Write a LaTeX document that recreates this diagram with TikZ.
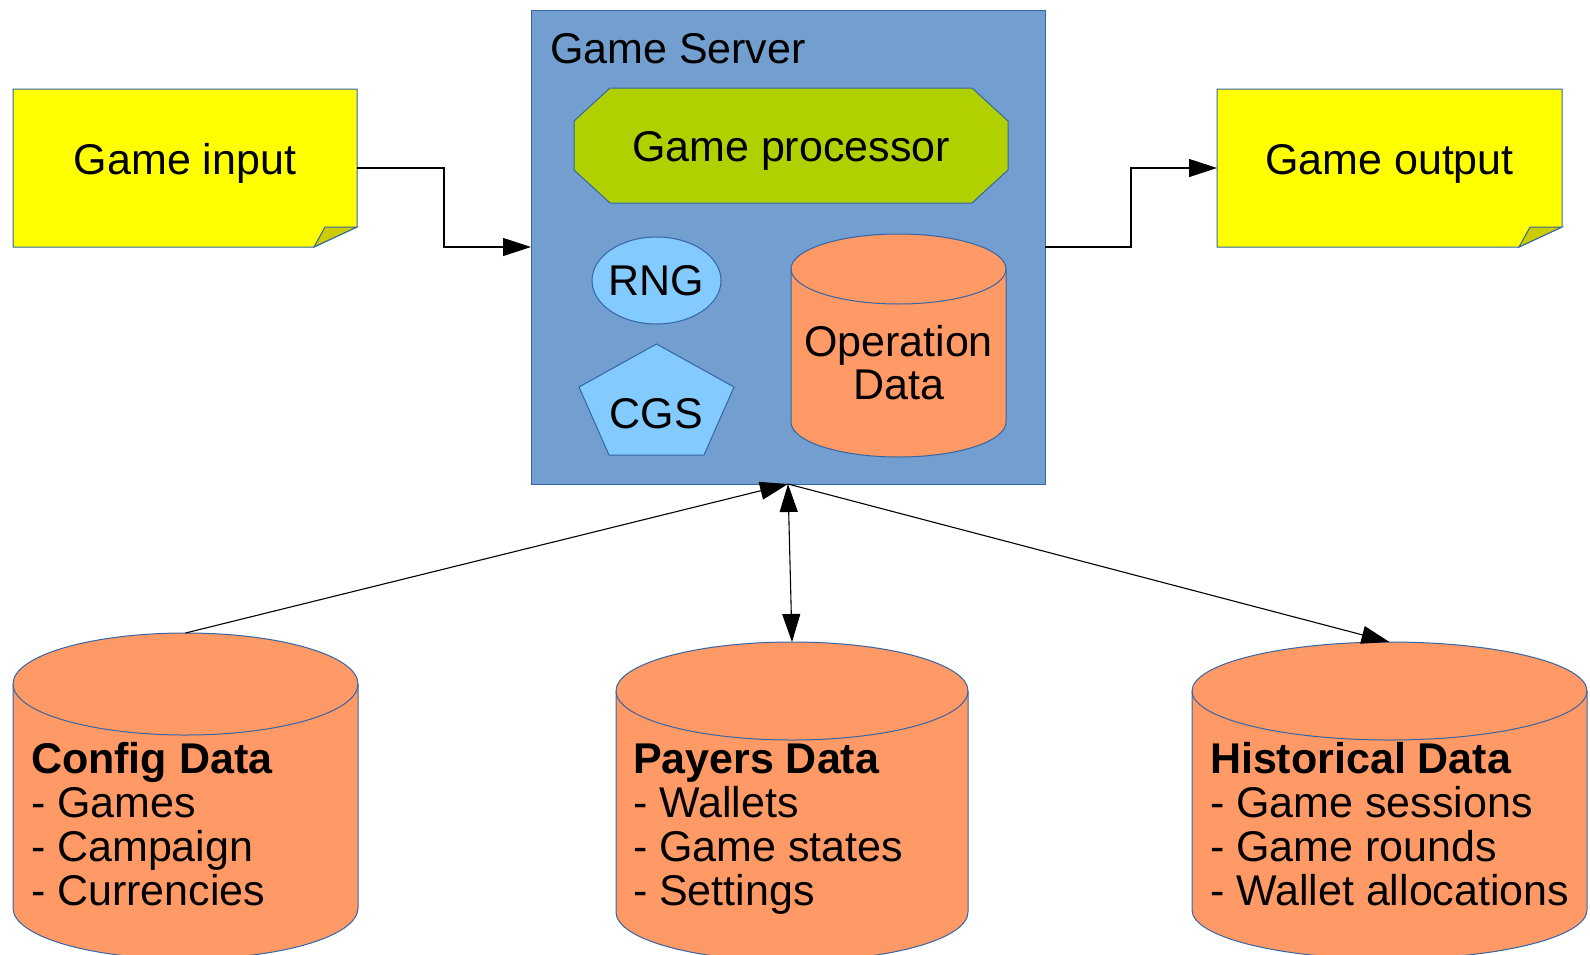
\documentclass[tikz,border=0pt]{standalone}
\usepackage{fontspec}
\setmainfont{Liberation Sans}
\usetikzlibrary{arrows.meta,calc,shapes.geometric}

\definecolor{edgeblue}{HTML}{3465A4}
\definecolor{noteyellow}{HTML}{FFFF00}
\definecolor{foldyellow}{HTML}{CCCC00}
\definecolor{serverblue}{HTML}{729FCF}
\definecolor{procgreen}{HTML}{B0D000}
\definecolor{lightblue}{HTML}{83CAFF}
\definecolor{dborange}{HTML}{FF9966}

% database cylinder drawn round a placeholder node: #1 node, #2 half width, #3 end radius
\newcommand\dbcylinder[3]{%
  \filldraw[dbbody] ([yshift=-#3pt]#1.north west) -- ([yshift=#3pt]#1.south west)
    arc[start angle=180,end angle=360,x radius=#2pt,y radius=#3pt]
    -- ([yshift=-#3pt]#1.north east)
    arc[start angle=0,end angle=180,x radius=#2pt,y radius=#3pt] -- cycle;
  \draw[outline] ([yshift=-#3pt]#1.north west)
    arc[start angle=180,end angle=360,x radius=#2pt,y radius=#3pt];
}

% folded note drawn round a placeholder node
\newcommand\notesheet[1]{%
  \filldraw[notebody] (#1.north west) -- (#1.north east) -- ([yshift=20pt]#1.south east)
    -- ([xshift=-43pt]#1.south east) -- (#1.south west) -- cycle;
  \filldraw[foldbody] ([xshift=-43pt]#1.south east) -- ([xshift=-32pt,yshift=20pt]#1.south east)
    -- ([yshift=20pt]#1.south east) -- cycle;
}

\begin{document}
\begin{tikzpicture}[x=1pt,y=1pt,
  every node/.style={inner sep=0pt,outer sep=0pt},
  slot/.style={rectangle,minimum width=#1},
  outline/.style={draw=edgeblue,line width=1pt},
  notebody/.style={outline,fill=noteyellow},
  foldbody/.style={outline,fill=foldyellow},
  dbbody/.style={outline,fill=dborange},
  serverbox/.style={rectangle,outline,fill=serverblue},
  procbody/.style={outline,fill=procgreen},
  unitbody/.style={outline,fill=lightblue},
  txt/.style={font=\fontsize{43pt}{44pt}\selectfont,text=black},
  tip/.tip={Triangle[length=28pt,width=18pt]},
  conn/.style={draw=black,line width=1.1pt,-tip},
  conntwo/.style={draw=black,line width=1.1pt,tip-tip}]

\useasboundingbox (0,0) rectangle (1590,-954);

% placeholder nodes fixing the extent of each shape
\node[slot=344pt,minimum height=158pt] (gi) at (185,-168) {};
\node[slot=345pt,minimum height=158pt] (go) at (1389.5,-168) {};
\node[serverbox,minimum width=514pt,minimum height=474pt] (gs) at (788,-247) {};
\node[slot=434pt,minimum height=115pt] (gp) at (791,-145.5) {};
\node[ellipse,unitbody,minimum width=129pt,minimum height=87pt] (rng) at (656.5,-280.5) {};
\node[slot=155pt,minimum height=111pt] (cgs) at (656.5,-399.5) {};
\node[slot=215pt,minimum height=223pt] (opd) at (898.5,-345.5) {};
\node[slot=345pt,minimum height=326pt] (cfg) at (185.5,-796) {};
\node[slot=352pt,minimum height=319pt] (pay) at (792,-801.5) {};
\node[slot=395pt,minimum height=317pt] (his) at (1389.5,-800.5) {};

% notes
\notesheet{gi}
\notesheet{go}

% game processor (chamfered box)
\filldraw[procbody] ([xshift=36pt]gp.north west) -- ([xshift=-36pt]gp.north east)
  -- ([yshift=-33pt]gp.north east) -- ([yshift=33pt]gp.south east)
  -- ([xshift=-36pt]gp.south east) -- ([xshift=36pt]gp.south west)
  -- ([yshift=33pt]gp.south west) -- ([yshift=-33pt]gp.north west) -- cycle;

% CGS pentagon
\filldraw[unitbody] (cgs.north) -- ([yshift=12.5pt]cgs.east) -- ([xshift=-30pt]cgs.south east)
  -- ([xshift=30pt]cgs.south west) -- ([yshift=12.5pt]cgs.west) -- cycle;

% databases
\dbcylinder{opd}{107.5}{35}
\dbcylinder{cfg}{172.5}{51}
\dbcylinder{pay}{176}{49}
\dbcylinder{his}{197.5}{49}

% labels
\node[txt,anchor=base] (gi-l) at (185,-174) {Game input};
\node[txt,anchor=base] (go-l) at (1389.5,-174) {Game output};
\node[txt,anchor=base west] (gs-l) at (550,-63) {Game Server};
\node[txt,anchor=base] (gp-l) at (791,-161) {Game processor};
\node[txt,anchor=base] (rng-l) at (656.5,-295) {RNG};
\node[txt,anchor=base] (cgs-l) at (656.5,-428) {CGS};
\node[txt,anchor=base] (opd-l) at (898.5,-356)
  {\parbox[t]{215pt}{\centering\fontsize{43pt}{43.5pt}\selectfont Operation\\Data}};
\node[txt,anchor=base west] (cfg-l) at (31,-773)
  {\parbox[t]{400pt}{\raggedright\textbf{Config Data}\\- Games\\- Campaign\\- Currencies}};
\node[txt,anchor=base west] (pay-l) at (633,-773)
  {\parbox[t]{400pt}{\raggedright\textbf{Payers Data}\\- Wallets\\- Game states\\- Settings}};
\node[txt,anchor=base west] (his-l) at (1210,-773)
  {\parbox[t]{400pt}{\raggedright\textbf{Historical Data}\\- Game sessions\\- Game rounds\\- Wallet allocations}};

% connectors
\draw[conn] (gi.east) -| ($(gi.east)!.5!(gs.west)$) |- (gs.west);
\draw[conn] (gs.east) -| ($(gs.east)!.5!(go.west)$) |- (go.west);
\draw[conn] (cfg.north) -- (gs.south);
\draw[conntwo] (gs.south) -- (pay.north);
\draw[conn] (gs.south) -- (his.north);
\end{tikzpicture}
\end{document}
